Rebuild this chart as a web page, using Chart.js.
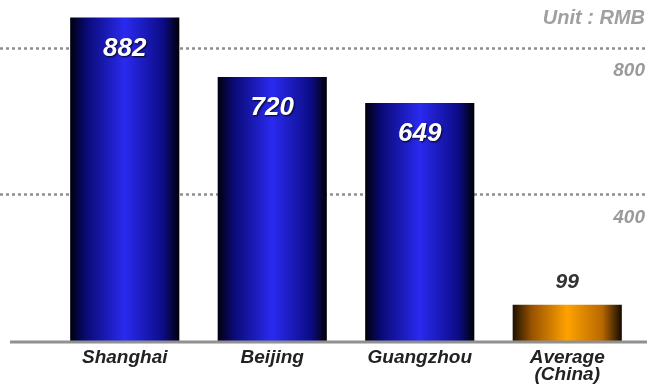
<!DOCTYPE html>
<html>
<head>
<meta charset="utf-8">
<script src="https://cdn.jsdelivr.net/npm/chart.js@4/dist/chart.umd.min.js"></script>
<style>
    body { margin: 0; background: #fff; }
    canvas { display: block; }
</style>
</head>
<body>
<canvas id="rmbChart" width="647" height="384"></canvas>
<script>
const cities = ["Shanghai", "Beijing", "Guangzhou", ["Average", "(China)"]];
const spending = [882, 720, 649, 99];
const gridValues = [400, 800];
const gridLabels = ["400", "800"];
const unitLabel = "Unit : RMB";

const FONT = "'Liberation Sans', Arial, sans-serif";
const BAR_PCT = 0.74;

// horizontal shading like the old cylinder bars
function barGradient(context) {
    const chart = context.chart;
    const xScale = chart.scales.x;
    const isAvg = context.dataIndex === spending.length - 1;
    if (!chart.chartArea || !xScale) {
        return isAvg ? "#f09000" : "#2020c0";
    }
    const cx = xScale.getPixelForValue(context.dataIndex);
    const half = (xScale.width / cities.length) * BAR_PCT / 2;
    const g = chart.ctx.createLinearGradient(cx - half, 0, cx + half, 0);
    if (isAvg) {
        g.addColorStop(0, "#1e1000");
        g.addColorStop(0.18, "#9a5400");
        g.addColorStop(0.5, "#ffa200");
        g.addColorStop(0.82, "#b86800");
        g.addColorStop(1, "#140a00");
    } else {
        g.addColorStop(0, "#00000c");
        g.addColorStop(0.15, "#0a0a78");
        g.addColorStop(0.5, "#2a2af0");
        g.addColorStop(0.85, "#0c0c88");
        g.addColorStop(1, "#000006");
    }
    return g;
}

const decorPlugin = {
    id: "decor",
    beforeDatasetsDraw: (chart) => {
        const { ctx, width, scales: { y } } = chart;
        ctx.save();
        ctx.strokeStyle = "#8e8e8e";
        ctx.lineWidth = 2.5;
        ctx.setLineDash([3, 3]);
        gridValues.forEach((v) => {
            const py = Math.round(y.getPixelForValue(v)) + 0.5;
            ctx.beginPath();
            ctx.moveTo(0, py);
            ctx.lineTo(width, py);
            ctx.stroke();
        });
        ctx.restore();
    },
    afterDatasetsDraw: (chart) => {
        const { ctx, width, scales: { y } } = chart;
        ctx.save();

        // baseline
        const base = y.getPixelForValue(0) + 1;
        ctx.strokeStyle = "#909090";
        ctx.lineWidth = 3;
        ctx.beginPath();
        ctx.moveTo(10, base);
        ctx.lineTo(width, base);
        ctx.stroke();

        // tick labels under the dashed lines, right side
        ctx.fillStyle = "#9a9a9a";
        ctx.font = "bold italic 19px " + FONT;
        ctx.textAlign = "right";
        ctx.textBaseline = "middle";
        gridValues.forEach((v, i) => {
            ctx.fillText(gridLabels[i], width - 2, y.getPixelForValue(v) + 23);
        });
        ctx.fillStyle = "#a0a0a0";
        ctx.font = "bold italic 20px " + FONT;
        ctx.fillText(unitLabel, width - 2, 18);

        // value labels
        const meta = chart.getDatasetMeta(0);
        ctx.textAlign = "center";
        meta.data.forEach((bar, i) => {
            if (i === spending.length - 1) {
                ctx.fillStyle = "#333333";
                ctx.font = "bold italic 21px " + FONT;
                ctx.fillText(String(spending[i]), bar.x, bar.y - 22);
            } else {
                ctx.save();
                ctx.shadowColor = "rgba(0,0,0,0.9)";
                ctx.shadowOffsetX = 1;
                ctx.shadowOffsetY = 1;
                ctx.shadowBlur = 2;
                ctx.fillStyle = "#ffffff";
                ctx.font = "bold italic 26px " + FONT;
                ctx.fillText(String(spending[i]), bar.x, bar.y + 31);
                ctx.restore();
            }
        });
        ctx.restore();
    },
};

const ctx = document.getElementById("rmbChart").getContext("2d");
const rmbChart = new Chart(ctx, {
    type: "bar",
    data: {
        labels: cities,
        datasets: [
            {
                data: spending,
                backgroundColor: barGradient,
                borderWidth: 0,
                categoryPercentage: 1,
                barPercentage: BAR_PCT,
            },
        ],
    },
    options: {
        responsive: false,
        animation: false,
        layout: {
            padding: { left: 51, right: 6, top: 11, bottom: 0 },
        },
        scales: {
            x: {
                grid: { display: false },
                border: { display: false },
                afterFit: (scale) => {
                    scale.height = 43;
                },
                ticks: {
                    color: "#222222",
                    padding: 0,
                    font: { family: FONT, size: 19, style: "italic", weight: "bold", lineHeight: 0.9 },
                },
            },
            y: {
                display: false,
                min: 0,
                max: 900,
            },
        },
        plugins: {
            legend: { display: false },
            tooltip: { enabled: false },
        },
    },
    plugins: [decorPlugin],
});
</script>
</body>
</html>
